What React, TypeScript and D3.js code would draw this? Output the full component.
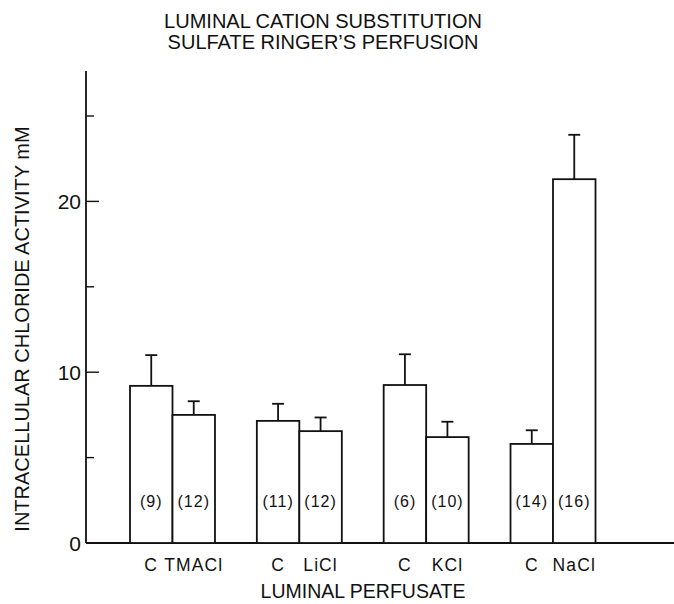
import * as d3 from "d3";
import React from "react";

// luminal perfusate groups, control (C) bar then test-salt bar
const groups = ["TMACl", "LiCl", "KCl", "NaCl"];
const pair = ["C", "test"];
const controlMean = [9.2, 7.15, 9.25, 5.8];
const controlErr = [1.8, 1.0, 1.8, 0.8];
const controlN = [9, 11, 6, 14];
const testMean = [7.5, 6.55, 6.2, 21.3];
const testErr = [0.8, 0.8, 0.9, 2.6];
const testN = [12, 12, 10, 16];
const yTicks = [0, 5, 10, 15, 20, 25];
const yLabels = [0, 10, 20];

const W = 674;
const H = 604;
const axisX = 86;
const baseY = 543;
const font = "'Liberation Sans', Arial, Helvetica, sans-serif";

const App = () => {
  const y = d3.scaleLinear().domain([0, 25]).range([baseY, 116]);
  const x = d3.scaleBand().domain(groups).range([130, 595.5]).paddingInner(0.33).paddingOuter(0);
  const xi = d3.scaleBand().domain(pair).range([0, x.bandwidth()]).padding(0);

  const bars = groups.flatMap((g, i) => [
    { g, k: "C", label: "C", mean: controlMean[i], err: controlErr[i], n: controlN[i] },
    { g, k: "test", label: g, mean: testMean[i], err: testErr[i], n: testN[i] },
  ]);

  const sw = 1.8;
  const cap = 6;

  return (
    <svg width={W} height={H} style={{ position: "absolute", left: 0, top: 0, background: "#fff" }}
      fontFamily={font} fill="#111">
      <rect width={W} height={H} fill="#fff" />
      <text x={323} y={28} textAnchor="middle" fontSize={20}>LUMINAL CATION  SUBSTITUTION</text>
      <text x={323} y={49} textAnchor="middle" fontSize={20}>SULFATE RINGER’S PERFUSION</text>

      {/* axes */}
      <line x1={axisX} x2={axisX} y1={71} y2={baseY} stroke="#111" strokeWidth={sw} />
      <line x1={axisX} x2={W} y1={baseY} y2={baseY} stroke="#111" strokeWidth={sw} />
      {yTicks.filter(t => t > 0).map(t => (
        <line key={t} x1={axisX} x2={axisX + (t % 10 === 0 ? 13 : 8)} y1={y(t)} y2={y(t)}
          stroke="#111" strokeWidth={1.4} />
      ))}
      {yLabels.map(t => (
        <text key={t} x={axisX - 5} y={y(t)} dy="0.36em" textAnchor="end" fontSize={21}>{t}</text>
      ))}
      <text transform={`translate(29, 329) rotate(-90)`} textAnchor="middle" fontSize={20}>
        INTRACELLULAR CHLORIDE ACTIVITY mM
      </text>
      <text x={363} y={598} textAnchor="middle" fontSize={19.5}>LUMINAL PERFUSATE</text>

      {bars.map((b, i) => {
        const x0 = (x(b.g) as number) + (xi(b.k) as number);
        const w = xi.bandwidth();
        const cx = x0 + w / 2;
        return (
          <g key={i}>
            <line x1={cx} x2={cx} y1={y(b.mean)} y2={y(b.mean + b.err)} stroke="#111" strokeWidth={sw} />
            <line x1={cx - cap} x2={cx + cap} y1={y(b.mean + b.err)} y2={y(b.mean + b.err)}
              stroke="#111" strokeWidth={sw} />
            <rect x={x0} y={y(b.mean)} width={w} height={baseY - y(b.mean)}
              fill="#fff" stroke="#111" strokeWidth={sw} />
            <text x={cx} y={507} textAnchor="middle" fontSize={16} letterSpacing={1}>({b.n})</text>
            <text x={cx} y={571} textAnchor="middle" fontSize={17.5} letterSpacing={1.1}>{b.label}</text>
          </g>
        );
      })}
    </svg>
  );
};

export default App;
